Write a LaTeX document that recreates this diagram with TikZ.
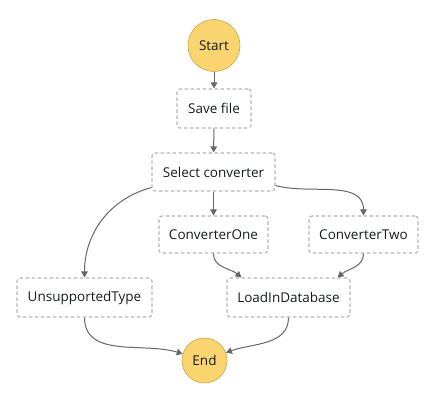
\documentclass[tikz,border=0pt]{standalone}
\usepackage{fontspec}
\setmainfont{Open Sans}
\usetikzlibrary{arrows.meta}
\definecolor{statefill}{HTML}{FAD56F}
\definecolor{statedraw}{HTML}{C9A447}
\definecolor{boxdraw}{HTML}{B4B4B4}
\definecolor{edgecol}{HTML}{666666}
\definecolor{txt}{HTML}{16191F}
\tikzset{
  terminal/.style={circle, fill=statefill, draw=statedraw, line width=0.6pt, inner sep=0pt, text=txt, font=\fontsize{13.5}{15}\selectfont},
  task/.style={draw=boxdraw, line width=1.1pt, dash pattern=on 3.5pt off 2.5pt, rounded corners=3pt, inner sep=0pt, text=txt, font=\fontsize{13.5}{15}\selectfont},
  flow/.style={draw=edgecol, line width=1pt, -{Triangle[length=6pt,width=6.5pt]}}
}
\begin{document}
\begin{tikzpicture}[x=1pt,y=1pt]
\useasboundingbox (0,0) rectangle (434,410);
\node[terminal, minimum size=52pt] (start) at (214,364.5) {Start};
\node[task, minimum width=74pt, minimum height=39pt] (save) at (214,301.5) {Save file};
\node[task, minimum width=123pt, minimum height=38pt] (sel) at (213.5,238) {Select converter};
\node[task, minimum width=109pt, minimum height=37pt] (c1) at (213.5,175.5) {ConverterOne};
\node[task, minimum width=109pt, minimum height=37pt] (c2) at (363.5,175.5) {ConverterTwo};
\node[task, minimum width=135pt, minimum height=39pt] (uns) at (84.5,112.5) {UnsupportedType};
\node[task, minimum width=123pt, minimum height=39pt] (load) at (288.5,112.5) {LoadInDatabase};
\node[terminal, minimum size=45pt] (end) at (204.5,49.5) {End};

\draw[flow] (start) -- (save);
\draw[flow] (save) -- (sel);
\draw[flow] (sel) -- (c1);
\draw[flow] ([yshift=6pt]sel.south east) to[out=-15, in=90] (c2.north);
\draw[flow] ([yshift=4pt]sel.south west) to[out=195, in=90] (uns.north);
\draw[flow] (c1.south) to[out=-90, in=140] ([xshift=15pt]load.north west);
\draw[flow] (c2.south) to[out=-90, in=40] ([xshift=-13pt]load.north east);
\draw[flow] (uns.south) to[out=-90, in=163] (end.163);
\draw[flow] (load.south) to[out=-90, in=20] (end.20);
\end{tikzpicture}
\end{document}
